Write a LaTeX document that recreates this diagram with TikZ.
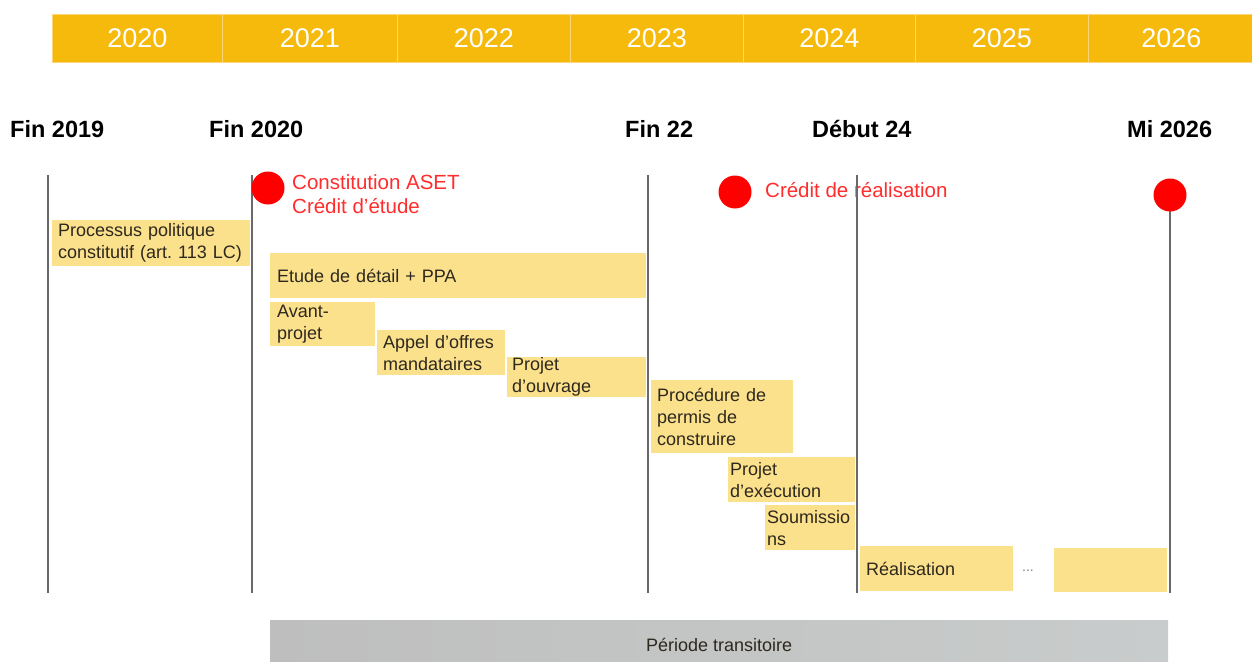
\documentclass[tikz,border=0pt]{standalone}
\usepackage{fontspec}
\setmainfont{Liberation Sans}
\hyphenpenalty=10000
\exhyphenpenalty=10000
\definecolor{baror}{RGB}{246,186,12}
\definecolor{cellline}{RGB}{250,214,120}
\definecolor{phasey}{RGB}{252,225,140}
\definecolor{tlinec}{RGB}{105,105,105}
\definecolor{mred}{RGB}{255,0,0}
\definecolor{rtext}{RGB}{255,45,45}
\definecolor{ptext}{RGB}{45,40,30}
\definecolor{grayl}{RGB}{190,190,190}
\definecolor{grayr}{RGB}{201,204,204}
\tikzset{
  yearcell/.style={fill=baror, draw=cellline, line width=0.8pt, minimum height=48pt,
    anchor=north west, inner sep=0pt, font=\fontsize{27}{30}\selectfont, text=white},
  milestone/.style={font=\bfseries\fontsize{23.5}{26}\selectfont, anchor=base west, inner sep=0pt},
  timeline/.style={draw=tlinec, line width=2pt},
  reddot/.style={circle, fill=mred, minimum size=33pt, inner sep=0pt},
  redlabel/.style={text=rtext, font=\fontsize{20.5}{24}\selectfont, anchor=base west, inner sep=0pt},
  phase/.style={fill=phasey, anchor=north west, inner ysep=0pt, inner xsep=6pt, align=left,
    font=\fontsize{18}{22}\selectfont, text=ptext},
}
\begin{document}
\begin{tikzpicture}[x=1pt,y=-1pt]
\useasboundingbox (0,0) rectangle (1252,661);
\fill[white] (0,0) rectangle (1252,661);
% year bar
\node[yearcell, minimum width=170pt] (y2020) at (52,14) {2020};
\node[yearcell, minimum width=175pt] (y2021) at (222,14) {2021};
\node[yearcell, minimum width=173pt] (y2022) at (397,14) {2022};
\node[yearcell, minimum width=173pt] (y2023) at (570,14) {2023};
\node[yearcell, minimum width=172pt] (y2024) at (743,14) {2024};
\node[yearcell, minimum width=173pt] (y2025) at (915,14) {2025};
\node[yearcell, minimum width=166pt] (y2026) at (1088,14) {2026};
% milestone labels
\node[milestone] (m1) at (10,137) {Fin 2019};
\node[milestone] (m2) at (209,137) {Fin 2020};
\node[milestone] (m3) at (625,137) {Fin 22};
\node[milestone] (m4) at (812,137) {Début 24};
\node[milestone] (m5) at (1127,137) {Mi 2026};
% red labels
\node[redlabel] (r1) at (292,189) {Constitution ASET};
\node[redlabel] (r2) at (292,213) {Crédit d'étude};
\node[redlabel] (r3) at (765,197) {Crédit de réalisation};
% phases
\node[phase, minimum width=198pt, minimum height=46pt, text width=186pt] (proc) at (52,220) {Processus politique\\constitutif (art.\ 113 LC)};
\node[phase, minimum width=376pt, minimum height=45pt, text width=362pt, inner xsep=7pt] (etude) at (270,253) {Etude de détail + PPA};
\node[phase, minimum width=105pt, minimum height=44pt, text width=91pt, inner xsep=7pt] (avant) at (270,302) {Avant-\\projet};
\node[phase, minimum width=128pt, minimum height=45pt, text width=116pt] (appel) at (377,330) {Appel d'offres\\mandataires};
\node[phase, minimum width=139pt, minimum height=40pt, text width=129pt, inner xsep=5pt] (ouvr) at (507,357) {Projet\\d'ouvrage};
\node[phase, minimum width=142pt, minimum height=73pt, text width=130pt] (perm) at (651,380) {Procédure de\\permis de\\construire};
\node[phase, minimum width=127pt, minimum height=45pt, text width=123pt, inner xsep=2pt] (exec) at (728,457) {Projet\\d'exécution};
\node[phase, minimum width=90pt, minimum height=45pt, text width=86pt, inner xsep=2pt] (soum) at (765,505) {Soumissio\\ns};
\node[phase, minimum width=153pt, minimum height=45pt, text width=141pt] (real) at (860,546) {Réalisation};
\node[text=gray, font=\fontsize{14}{16}\selectfont, anchor=base, inner sep=0pt] (dots) at (1028,571) {...};
\node[phase, minimum width=113pt, minimum height=44pt, text width=101pt] (cont) at (1054,548) {};
% transition bar
\node[anchor=north west, minimum width=898pt, minimum height=41pt, inner sep=0pt,
  left color=grayl, right color=grayr, font=\fontsize{18}{22}\selectfont, text=ptext] (trans) at (270,620) {\raisebox{-11pt}[0pt][0pt]{Période transitoire}};
% timelines
\coordinate (l1t) at (48,175);   \coordinate (l1b) at (48,593);
\coordinate (l2t) at (252,175);  \coordinate (l2b) at (252,593);
\coordinate (l3t) at (648,175);  \coordinate (l3b) at (648,593);
\coordinate (l4t) at (857,175);  \coordinate (l4b) at (857,593);
\coordinate (l5t) at (1170,195); \coordinate (l5b) at (1170,593);
\draw[timeline] (l1t) -- (l1b);
\draw[timeline] (l2t) -- (l2b);
\draw[timeline] (l3t) -- (l3b);
\draw[timeline] (l4t) -- (l4b);
\draw[timeline] (l5t) -- (l5b);
% red dots
\node[reddot] (d1) at (268,188) {};
\node[reddot] (d2) at (735,192) {};
\node[reddot] (d3) at (l5t) {};
\end{tikzpicture}
\end{document}
